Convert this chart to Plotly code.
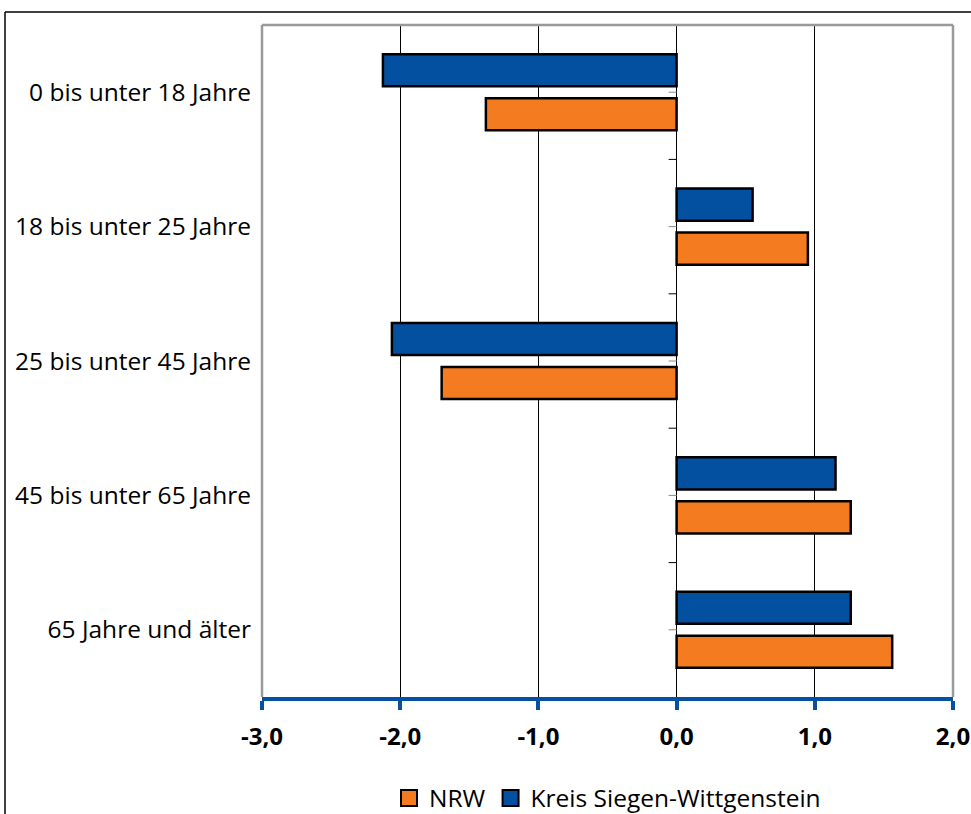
import plotly.graph_objects as go

categories = ["0 bis unter 18 Jahre", "18 bis unter 25 Jahre", "25 bis unter 45 Jahre",
              "45 bis unter 65 Jahre", "65 Jahre und älter"]
nrw = [-1.38, 0.95, -1.70, 1.26, 1.56]
kreis = [-2.125, 0.55, -2.06, 1.15, 1.26]
x_ticks = [-3, -2, -1, 0, 1, 2]
x_tick_labels = ["-3,0", "-2,0", "-1,0", "0,0", "1,0", "2,0"]

FONT = "Open Sans"
ORANGE = "#F47B20"
BLUE = "#0450A0"
fig = go.Figure()
fig.add_trace(go.Bar(y=categories, x=nrw, orientation="h", name="NRW", showlegend=False,
                     marker=dict(color=ORANGE, line=dict(color="black", width=2.5))))
fig.add_trace(go.Bar(y=categories, x=kreis, orientation="h", name="Kreis Siegen-Wittgenstein",
                     showlegend=False,
                     marker=dict(color=BLUE, line=dict(color="black", width=2.5))))
# legend entries (square swatches)
for name, col in [("NRW", ORANGE), ("Kreis Siegen-Wittgenstein", BLUE)]:
    fig.add_trace(go.Scatter(x=[None], y=[None], mode="markers", name=name,
                             marker=dict(symbol="square", size=16, color=col,
                                         line=dict(color="black", width=2))))

shapes = []
for i in range(len(categories) - 1):
    shapes.append(dict(type="line", xref="x", xsizemode="pixel", xanchor=0, x0=-8, x1=0,
                       yref="y", y0=i + 0.5, y1=i + 0.5, line=dict(color="black", width=1)))
for i in range(len(categories)):
    shapes.append(dict(type="line", xref="x", xsizemode="pixel", xanchor=0, x0=-8, x1=0,
                       yref="y", y0=i, y1=i, line=dict(color="#888888", width=1)))
shapes.append(dict(type="line", xref="paper", yref="paper", x0=0, x1=1, y0=1, y1=1,
                   line=dict(color="#9a9a9a", width=2.5)))
shapes.append(dict(type="line", xref="paper", yref="paper", x0=0, x1=0, y0=0, y1=1,
                   line=dict(color="#9a9a9a", width=2.5)))
shapes.append(dict(type="line", xref="paper", yref="paper", x0=1, x1=1, y0=0, y1=1,
                   line=dict(color="#9a9a9a", width=2.5)))
shapes.append(dict(type="line", xref="paper", yref="paper", x0=-257/691, x1=1.1,
                   y0=1 + 13/672, y1=1 + 13/672, line=dict(color="black", width=1.5)))
shapes.append(dict(type="line", xref="paper", yref="paper", x0=-257/691, x1=-257/691,
                   y0=-0.3, y1=1 + 13/672, line=dict(color="black", width=1.5)))

fig.update_layout(
    width=971, height=814,
    margin=dict(l=262, r=18, t=25, b=117),
    plot_bgcolor="white", paper_bgcolor="white",
    barmode="group", bargap=0.345, bargroupgap=0.27,
    font=dict(family=FONT, size=24.5, color="black"),
    separators=",.",
    xaxis=dict(range=[-3, 2], tickvals=x_ticks, ticktext=x_tick_labels,
               automargin=False,
               showgrid=True, gridcolor="black", gridwidth=1,
               zeroline=False,
               showline=True, linecolor="#0451A4", linewidth=4,
               ticks="outside", tickcolor="#0451A4", tickwidth=4, ticklen=9,
               tickfont=dict(family=FONT, size=24, color="black", weight="bold"),
               ticklabelstandoff=6),
    yaxis=dict(categoryorder="array", categoryarray=categories[::-1],
               automargin=False,
               showgrid=False, zeroline=False, showline=False, ticks="",
               ticklabelstandoff=10,
               tickfont=dict(family=FONT, size=24.5, color="black")),
    legend=dict(orientation="h", x=0.5, xanchor="center",
                yref="container", y=16/814, yanchor="middle",
                font=dict(family=FONT, size=24.5), itemwidth=30),
    shapes=shapes,
    showlegend=True,
)
fig.write_html("out.html", config={"displayModeBar": False},
               post_script="document.body.style.margin='0';document.body.style.overflow='hidden';")
